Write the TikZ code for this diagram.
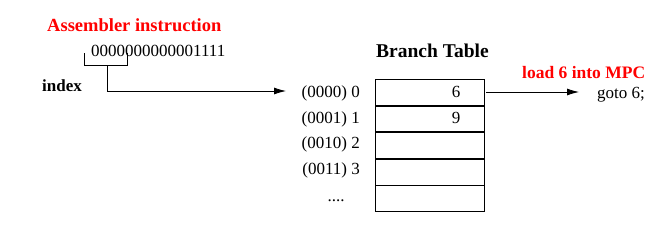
\documentclass[tikz,border=0pt]{standalone}
\usepackage{fontspec}
\setmainfont{Liberation Serif}
\usetikzlibrary{arrows.meta}
\begin{document}
\begin{tikzpicture}[x=1pt,y=-1pt,
  txt/.style={inner sep=0pt,font=\fontsize{17}{19}\selectfont},
  redlab/.style={inner sep=0pt,text=red,font=\fontsize{18.5}{20}\selectfont\bfseries},
  rowbox/.style={draw,line width=0.8pt,minimum width=109pt,minimum height=25.8pt,inner sep=0pt,anchor=north west,font=\fontsize{17}{19}\selectfont},
  conn/.style={line width=0.8pt},
  arr/.style={conn,-{Latex[length=12pt,width=7pt]}}]
\useasboundingbox (0,0) rectangle (666,225);
% labels
\node[redlab,anchor=base west] (asm) at (47,31) {Assembler instruction};
\node[txt,anchor=base west] (bits) at (91,56) {0000000000001111};
\node[txt,anchor=base west,font=\fontsize{17}{19}\selectfont\bfseries] (index) at (42,91) {index};
\node[txt,anchor=base west,font=\fontsize{19.5}{21}\selectfont\bfseries] (bt) at (376,57) {Branch Table};
% table rows
\node[rowbox] (r0) at (375,79) {};
\node[rowbox] (r1) at (r0.south west) {};
\node[rowbox] (r2) at (r1.south west) {};
\node[rowbox] (r3) at (r2.south west) {};
\node[rowbox] (r4) at (r3.south west) {};
\node[txt,anchor=base] (v0) at (456,97) {6};
\node[txt,anchor=base] (v1) at (456,123) {9};
% row labels
\node[txt,anchor=base east] (l0) at (360,97) {(0000) 0};
\node[txt,anchor=base east] (l1) at (360,123) {(0001) 1};
\node[txt,anchor=base east] (l2) at (360,148) {(0010) 2};
\node[txt,anchor=base east] (l3) at (360,174) {(0011) 3};
\node[txt,anchor=base] (l4) at (336,201) {....};
% right side
\node[redlab,anchor=base west,font=\fontsize{17.5}{19}\selectfont\bfseries] (load) at (522,78) {load 6 into MPC};
\node[txt,anchor=base west] (goto) at (597,98) {goto 6;};
% bracket and index arrow
\coordinate (bl) at (84,53);
\coordinate (br) at (127,53);
\coordinate (bm) at (107,65);
\coordinate (tip) at (286,91);
\draw[conn] (bl) |- (bm -| br) -- (br);
\draw[arr] (bm) |- (tip);
% load arrow
\coordinate (ls) at (486,92);
\coordinate (le) at (579,92);
\draw[arr] (ls) -- (le);
\end{tikzpicture}
\end{document}
